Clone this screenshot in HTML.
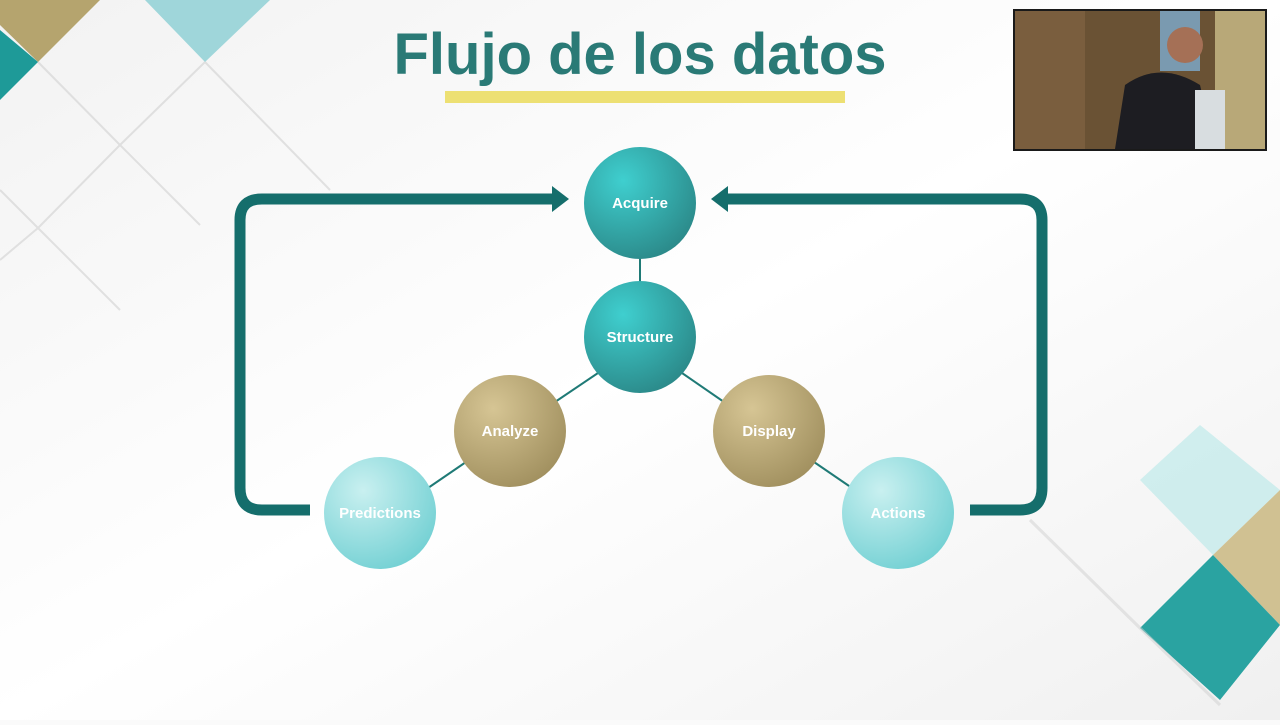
<!DOCTYPE html><html><head><meta charset="utf-8"><style>body{margin:0;width:1280px;height:720px;overflow:hidden;background:#fafafa;font-family:"Liberation Sans",sans-serif}</style></head><body>
<svg width="1280" height="720" viewBox="0 0 1280 720" xmlns="http://www.w3.org/2000/svg">
<defs>
<radialGradient id="tl" cx="0.35" cy="0.3" r="0.8"><stop offset="0" stop-color="#3fcfcf"/><stop offset="1" stop-color="#2a8585"/></radialGradient>
<radialGradient id="gd" cx="0.35" cy="0.3" r="0.8"><stop offset="0" stop-color="#d6c594"/><stop offset="1" stop-color="#9e8d5c"/></radialGradient>
<radialGradient id="lt" cx="0.35" cy="0.3" r="0.8"><stop offset="0" stop-color="#c9f0f0"/><stop offset="1" stop-color="#6fcfd2"/></radialGradient>
<linearGradient id="bg" x1="0" y1="0" x2="1" y2="1"><stop offset="0" stop-color="#f2f2f2"/><stop offset="0.5" stop-color="#ffffff"/><stop offset="1" stop-color="#f0f0f0"/></linearGradient>
</defs>
<rect width="1280" height="720" fill="url(#bg)"/>
<g stroke="#d0d0d0" stroke-width="2" fill="none" opacity="0.6">
<path d="M38 62 L120 145 L38 228 M120 145 L205 62 M205 62 L330 190 M120 145 L200 225 M38 228 L120 310 M0 190 L38 228 M0 260 L38 228"/>
</g>
<polygon points="0,0 100,0 38,62 0,25" fill="#b5a46e"/>
<polygon points="0,30 38,62 0,100" fill="#1e9a98"/>
<polygon points="145,0 270,0 205,62" fill="#9fd6da"/>
<polygon points="1140,480 1200,425 1280,490 1213,555" fill="#bfe9ea" opacity="0.7"/>
<polygon points="1213,555 1280,490 1280,625" fill="#d0c192"/>
<polygon points="1140,628 1213,555 1280,625 1220,700" fill="#2aa3a1"/>
<path d="M1030 520 L1140 628 L1220 705" stroke="#cfcfcf" stroke-width="3" fill="none" opacity="0.5"/>
<text x="640" y="74" text-anchor="middle" font-size="58" font-weight="bold" fill="#2a7a76">Flujo de los datos</text>
<rect x="445" y="91" width="400" height="12" fill="#ede073"/>
<rect x="1013" y="9" width="254" height="142" fill="#1a1a1a"/>
<rect x="1015" y="11" width="250" height="138" fill="#6a5234"/>
<rect x="1015" y="11" width="70" height="138" fill="#7a5e3e"/>
<rect x="1160" y="11" width="40" height="60" fill="#7a9ab0"/>
<rect x="1215" y="11" width="50" height="138" fill="#b8a878"/>
<path d="M1115 149 L1125 85 Q1160 60 1200 85 L1215 149Z" fill="#1d1d22"/>
<rect x="1195" y="90" width="30" height="59" fill="#d8dde0"/>
<circle cx="1185" cy="45" r="18" fill="#a57056"/>
<g stroke="#156e6c" stroke-width="11" fill="none">
<path d="M310 510 L262 510 Q240 510 240 488 L240 220 Q240 199 262 199 L555 199"/>
<path d="M970 510 L1020 510 Q1042 510 1042 488 L1042 220 Q1042 199 1020 199 L725 199"/>
</g>
<polygon points="569,199 552,186 552,212" fill="#156e6c"/>
<polygon points="711,199 728,186 728,212" fill="#156e6c"/>
<g stroke="#1f7a76" stroke-width="2">
<line x1="640" y1="250" x2="640" y2="290"/>
<line x1="598" y1="373" x2="555" y2="402"/>
<line x1="682" y1="373" x2="724" y2="402"/>
<line x1="466" y1="462" x2="428" y2="488"/>
<line x1="814" y1="462" x2="852" y2="488"/>
</g>
<g font-size="15" font-weight="bold" fill="#fff" text-anchor="middle">
<circle cx="640" cy="203" r="56" fill="url(#tl)"/><text x="640" y="208">Acquire</text>
<circle cx="640" cy="337" r="56" fill="url(#tl)"/><text x="640" y="342">Structure</text>
<circle cx="510" cy="431" r="56" fill="url(#gd)"/><text x="510" y="436">Analyze</text>
<circle cx="769" cy="431" r="56" fill="url(#gd)"/><text x="769" y="436">Display</text>
<circle cx="380" cy="513" r="56" fill="url(#lt)"/><text x="380" y="518">Predictions</text>
<circle cx="898" cy="513" r="56" fill="url(#lt)"/><text x="898" y="518">Actions</text>
</g>
</svg></body></html>
